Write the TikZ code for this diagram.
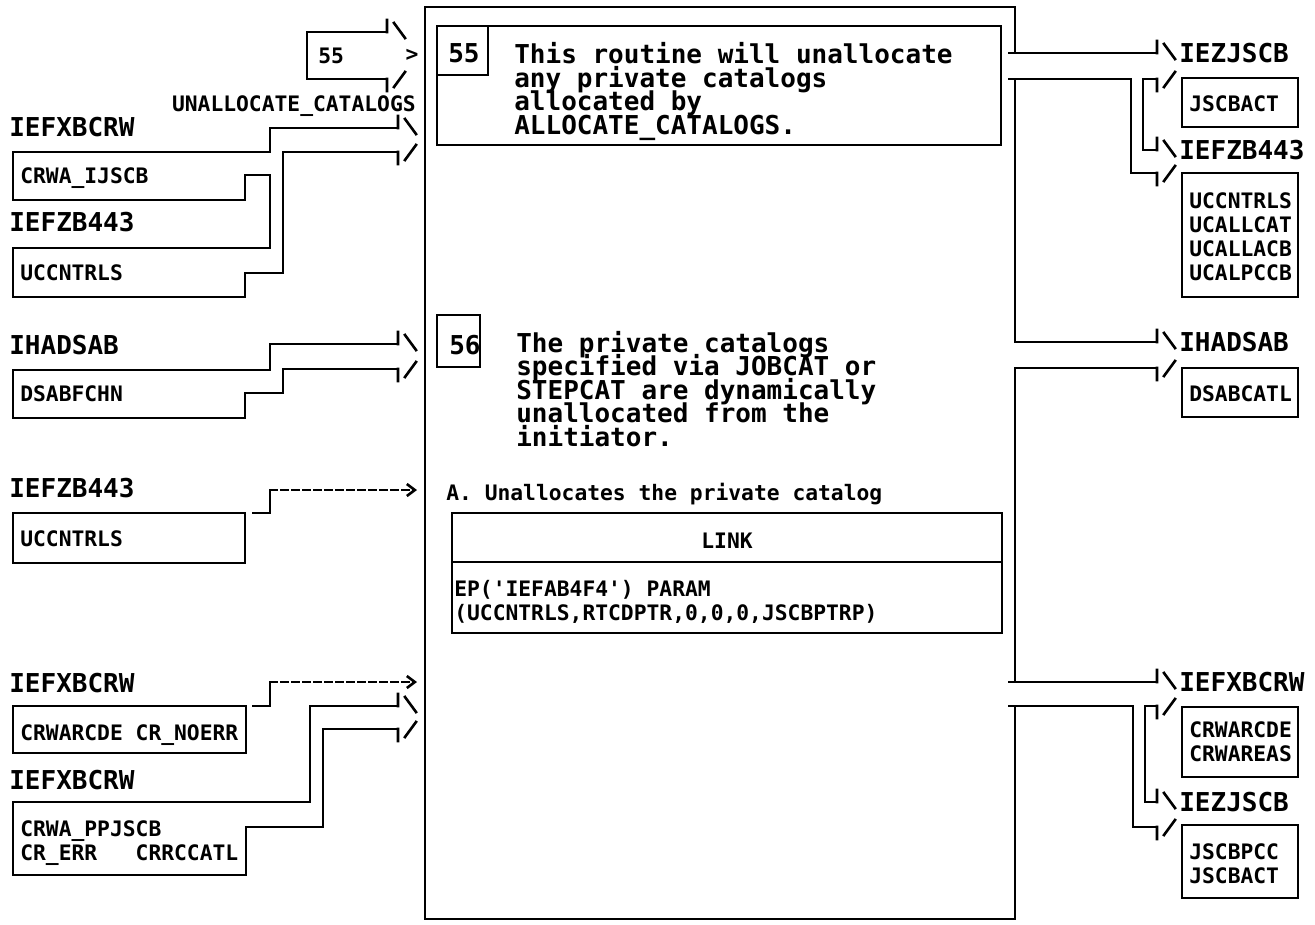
\documentclass[tikz,border=0pt]{standalone}
\usepackage{fontspec}
\setmonofont{DejaVu Sans Mono}
\usetikzlibrary{arrows.meta}
\newcommand\bigfont{\fontsize{26}{23.6}\selectfont\lineskiplimit=-100pt\ttfamily\bfseries}
\newcommand\smallfont{\fontsize{21.3}{23.8}\selectfont\lineskiplimit=-100pt\ttfamily\bfseries}
\tikzset{
 lbl/.style={anchor=base west, inner sep=0pt, font=\bigfont, align=left},
 fld/.style={anchor=base west, inner sep=0pt, font=\smallfont, align=left},
 dashto/.style={dash pattern=on 7pt off 4pt, -{Straight Barb[length=8pt,width=12pt]}},
 uphead/.pic={\draw (0,0) -- (0,-12) (7,-9) -- (18,6);},
 lowhead/.pic={\draw (0,0) -- (0,12) (7,8) -- (18,-7);}
}
\begin{document}
\begin{tikzpicture}[x=1pt,y=-1pt,line width=2.6pt,line cap=rect]
\useasboundingbox (0,0) rectangle (1315,924);
% process box (multi-line nodes sit on their last baseline)
\draw (1015,53) -- (1015,7) -- (425,7) -- (425,919) -- (1015,919) -- (1015,706);
\draw (1015,79) -- (1015,342) (1015,368) -- (1015,682);
\draw (437,26) rectangle (1001,145) (437,26) rectangle (488,75);
\node[lbl] (num55) at (447,62.5) {55};
\node[lbl] (txt55) at (513,134.5) {This routine will unallocate\\any private catalogs\\allocated by\\ALLOCATE\_CATALOGS.};
\draw (437,315) rectangle (480,367);
\node[lbl] (num56) at (448,354.5) {56};
\node[lbl] (txt56) at (515,446.5) {The private catalogs\\specified via JOBCAT or\\STEPCAT are dynamically\\unallocated from the\\initiator.};
\node[fld] (stepA) at (445,500) {A. Unallocates the private catalog};
\draw (452,513) rectangle (1002,633) (452,562) -- (1002,562);
\node[fld,anchor=base] (link) at (727,548) {LINK};
\node[fld] (parms) at (453,620) {EP('IEFAB4F4') PARAM\\(UCCNTRLS,RTCDPTR,0,0,0,JSCBPTRP)};

% input side
\coordinate (in0t) at (387,32); \coordinate (in0b) at (387,79);
\draw (in0t) -- (307,32) -- (307,79) -- (in0b);
\pic at (in0t) {uphead}; \pic at (in0b) {lowhead};
\node[fld,anchor=center] (gt55) at (412,55) {>};
\node[fld] (ref55) at (317,63) {55};
\node[fld,anchor=base east] (unalloc) at (417,111) {UNALLOCATE\_CATALOGS};

\node[lbl] (xbcrw1) at (8,136.5) {IEFXBCRW};
\node[fld] (ijscb) at (19,183) {CRWA\_IJSCB};
\node[lbl] (zb443a) at (8,231.5) {IEFZB443};
\node[fld] (ucc1) at (19,280) {UCCNTRLS};
\coordinate (in1t) at (398,128); \coordinate (in1b) at (398,152);
\draw (13,200) -- (13,152) -- (270,152) -- (270,128) -- (in1t);
\draw (13,200) -- (245,200) -- (245,175) -- (270,175) -- (270,248) -- (13,248) -- (13,297)
  -- (245,297) -- (245,273) -- (283,273) -- (283,152) -- (in1b);
\pic at (in1t) {uphead}; \pic at (in1b) {lowhead};

\node[lbl] (dsab1) at (8,354.5) {IHADSAB};
\node[fld] (fchn) at (19,401) {DSABFCHN};
\coordinate (in2t) at (398,344); \coordinate (in2b) at (398,369);
\draw (13,418) -- (13,370) -- (270,370) -- (270,344) -- (in2t);
\draw (13,418) -- (245,418) -- (245,393) -- (283,393) -- (283,369) -- (in2b);
\pic at (in2t) {uphead}; \pic at (in2b) {lowhead};

\node[lbl] (zb443b) at (8,497.5) {IEFZB443};
\draw (13,513) rectangle (245,563);
\node[fld] (ucc2) at (19,546) {UCCNTRLS};
\coordinate (in3) at (417,490);
\draw (253,513) -- (270,513) -- (270,490);
\draw[dashto] (270,490) -- (in3);

\node[lbl] (xbcrw2) at (8,692.5) {IEFXBCRW};
\draw (13,706) rectangle (246,753);
\node[fld] (noerr) at (19,740) {CRWARCDE CR\_NOERR};
\coordinate (in4) at (417,682);
\draw (253,706) -- (270,706) -- (270,682);
\draw[dashto] (270,682) -- (in4);

\node[lbl] (xbcrw3) at (8,789.5) {IEFXBCRW};
\node[fld] (ppjscb) at (19,860) {CRWA\_PPJSCB\\CR\_ERR\ \ \ CRRCCATL};
\coordinate (in5t) at (398,706); \coordinate (in5b) at (398,729);
\draw (13,875) -- (13,802) -- (310,802) -- (310,706) -- (in5t);
\draw (13,875) -- (246,875) -- (246,827) -- (323,827) -- (323,729) -- (in5b);
\pic at (in5t) {uphead}; \pic at (in5b) {lowhead};

% output side
\coordinate (out1t) at (1157,53); \coordinate (out1m) at (1157,79);
\coordinate (out1n) at (1157,150); \coordinate (out1b) at (1157,173);
\draw (1009,53) -- (out1t);
\draw (1009,79) -- (1131,79) -- (1131,173) -- (out1b);
\draw (out1m) -- (1143,79) -- (1143,150) -- (out1n);
\pic at (out1t) {uphead}; \pic at (out1m) {lowhead};
\pic at (out1n) {uphead}; \pic at (out1b) {lowhead};
\node[lbl] (jscb1) at (1178,62.5) {IEZJSCB};
\draw (1182,78) rectangle (1298,127);
\node[fld] (act1) at (1188,111) {JSCBACT};
\node[lbl] (zb443c) at (1178,159.5) {IEFZB443};
\draw (1182,173) rectangle (1298,297);
\node[fld] (ucc3) at (1188,280) {UCCNTRLS\\UCALLCAT\\UCALLACB\\UCALPCCB};

\coordinate (out2t) at (1157,342); \coordinate (out2b) at (1157,368);
\draw (1015,342) -- (out2t) (1015,368) -- (out2b);
\pic at (out2t) {uphead}; \pic at (out2b) {lowhead};
\node[lbl] (dsab2) at (1178,351.5) {IHADSAB};
\draw (1182,368) rectangle (1298,417);
\node[fld] (catl) at (1188,401) {DSABCATL};

\coordinate (out3t) at (1157,682); \coordinate (out3m) at (1157,706);
\coordinate (out3n) at (1157,802); \coordinate (out3b) at (1157,827);
\draw (1009,682) -- (out3t);
\draw (1009,706) -- (1133,706) -- (1133,827) -- (out3b);
\draw (out3m) -- (1145,706) -- (1145,802) -- (out3n);
\pic at (out3t) {uphead}; \pic at (out3m) {lowhead};
\pic at (out3n) {uphead}; \pic at (out3b) {lowhead};
\node[lbl] (xbcrw4) at (1178,691.5) {IEFXBCRW};
\draw (1182,707) rectangle (1298,777);
\node[fld] (areas) at (1188,761) {CRWARCDE\\CRWAREAS};
\node[lbl] (jscb2) at (1178,811.5) {IEZJSCB};
\draw (1182,825) rectangle (1298,898);
\node[fld] (pcc) at (1188,883) {JSCBPCC\\JSCBACT};
\end{tikzpicture}
\end{document}
